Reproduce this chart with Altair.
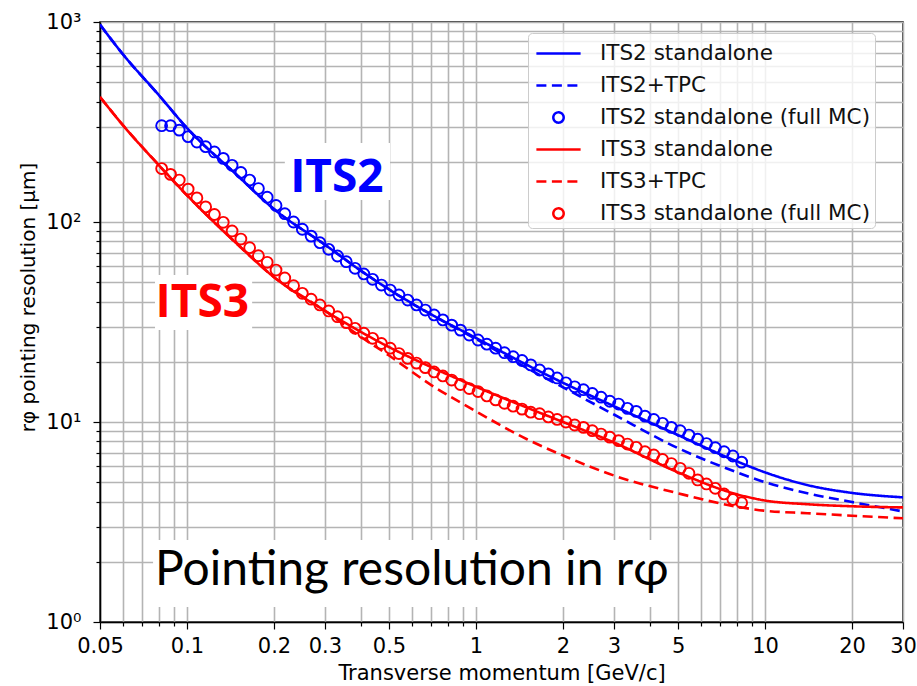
import altair as alt
import pandas as pd

# ---------------- data ----------------
LINE_PT = [0.05, 0.06, 0.08, 0.1, 0.15, 0.2, 0.3, 0.4, 0.5, 0.7, 1, 1.5, 2, 3, 5, 8, 10, 14, 20, 30]
ITS2_SA = [970, 690, 430, 295, 170, 116, 77, 57, 46, 34.5, 26.3, 19.3, 15.7, 12.0, 8.6, 6.35, 5.6, 4.84, 4.42, 4.2]
ITS2_TPC = [970, 690, 430, 295, 170, 116, 77, 57, 46, 34.4, 26.0, 18.6, 14.9, 10.9, 7.4, 5.6, 5.0, 4.4, 3.98, 3.57]
ITS3_SA = [422, 305, 192, 136, 77, 53, 36, 28.2, 23.7, 18.8, 15.0, 11.8, 10.0, 7.9, 5.6, 4.35, 4.05, 3.88, 3.79, 3.74]
ITS3_TPC = [422, 305, 192, 136, 77, 53, 36, 26.6, 21.5, 15.3, 11.3, 8.2, 6.8, 5.4, 4.4, 3.77, 3.6, 3.5, 3.4, 3.3]

MC_PT = [0.0817, 0.0877, 0.0940, 0.1009, 0.1082, 0.1160, 0.1244, 0.1335, 0.1432, 0.1536,
         0.1647, 0.1766, 0.1894, 0.2032, 0.2179, 0.2337, 0.2506, 0.2688, 0.2883, 0.3092,
         0.3316, 0.3556, 0.3814, 0.4090, 0.4386, 0.4705, 0.5046, 0.5411, 0.5803, 0.6223,
         0.6675, 0.7158, 0.7677, 0.8233, 0.8830, 0.9474, 1.016, 1.090, 1.169, 1.254,
         1.344, 1.442, 1.546, 1.659, 1.779, 1.908, 2.046, 2.194, 2.353, 2.524,
         2.707, 2.903, 3.113, 3.340, 3.582, 3.841, 4.120, 4.418, 4.739, 5.083,
         5.451, 5.846, 6.270, 6.725, 7.213, 7.736, 8.297]
ITS2_MC = [303, 303, 288, 267, 251, 238, 224, 208, 192, 177,
           162, 147, 133, 121, 110, 100, 92, 85, 78.8, 73,
           67.6, 63.3, 58.7, 55.0, 51.7, 48.4, 45.7, 43.2, 40.7, 38.5,
           36.3, 34.3, 32.4, 30.5, 28.8, 27.2, 25.7, 24.5, 23.4, 22.2,
           21.2, 20.3, 19.3, 18.2, 17.4, 16.6, 15.7, 15.0, 14.5, 13.9,
           13.3, 12.7, 12.3, 11.7, 11.3, 10.7, 10.3, 9.85, 9.4, 9.05,
           8.6, 8.2, 7.8, 7.44, 7.1, 6.76, 6.3]
ITS3_MC = [185, 173, 162, 146, 132, 119, 109, 99.6, 90.2, 82.2,
           74.4, 67.8, 62.9, 57.5, 52.5, 48.0, 44.0, 41.1, 38.5, 35.9,
           33.6, 31.4, 29.4, 27.8, 26.2, 24.7, 23.4, 22.0, 20.8, 19.7,
           18.7, 17.8, 17.0, 16.2, 15.4, 14.7, 14.2, 13.5, 12.9, 12.4,
           12.0, 11.6, 11.2, 11.0, 10.6, 10.3, 10.0, 9.66, 9.4, 9.05,
           8.7, 8.4, 8.07, 7.76, 7.47, 7.1, 6.84, 6.5, 6.2, 5.87,
           5.54, 5.13, 4.9, 4.66, 4.37, 4.1, 3.95]

SERIES = ["ITS2 standalone", "ITS2+TPC", "ITS2 standalone (full MC)",
          "ITS3 standalone", "ITS3+TPC", "ITS3 standalone (full MC)"]

X_TICKS = [0.05, 0.06, 0.07, 0.08, 0.09, 0.1, 0.2, 0.3, 0.4, 0.5, 0.6, 0.7, 0.8, 0.9,
           1, 2, 3, 4, 5, 6, 7, 8, 9, 10, 20, 30]
X_LABELED = [0.05, 0.1, 0.2, 0.3, 0.5, 1, 2, 3, 5, 10, 20, 30]
Y_TICKS = [1, 2, 3, 4, 5, 6, 7, 8, 9, 10, 20, 30, 40, 50, 60, 70, 80, 90,
           100, 200, 300, 400, 500, 600, 700, 800, 900, 1000]

TAG_TEXT = ["ITS2", "ITS3"]
TAG_X = [0.330, 0.113]
TAG_Y = [141, 33.5]
BOX_X1 = [0.218, 0.0775, 0.0763]
BOX_X2 = [0.504, 0.168, 4.37]
BOX_Y1 = [129, 28.8, 1.19]
BOX_Y2 = [248, 54.3, 2.57]
CAPTION = ["Pointing resolution in rφ"]
CAPTION_X = [0.0775]
CAPTION_Y = [1.53]

# ---------------- tables ----------------
rows = []
for name, vals in [("ITS2 standalone", ITS2_SA), ("ITS2+TPC", ITS2_TPC),
                   ("ITS3 standalone", ITS3_SA), ("ITS3+TPC", ITS3_TPC)]:
    for p, v in zip(LINE_PT, vals):
        rows.append({"pt": p, "res": v, "series": name})
line_df = pd.DataFrame(rows)

rows = []
for name, vals in [("ITS2 standalone (full MC)", ITS2_MC), ("ITS3 standalone (full MC)", ITS3_MC)]:
    for p, v in zip(MC_PT, vals):
        rows.append({"pt": p, "res": v, "series": name})
mc_df = pd.DataFrame(rows)

box_df = pd.DataFrame({"x1": BOX_X1, "x2": BOX_X2, "y1": BOX_Y1, "y2": BOX_Y2})
tag_df = pd.DataFrame({"text": TAG_TEXT, "pt": TAG_X, "res": TAG_Y})
cap_df = pd.DataFrame({"text": CAPTION, "pt": CAPTION_X, "res": CAPTION_Y})

# ---------------- styles ----------------
BLUE = "#0000ff"
RED = "#ff0000"
COLORS = [BLUE, BLUE, BLUE, RED, RED, RED]
DASHES = [[1, 0], [10, 5.5], [1, 0], [1, 0], [10, 5.5], [1, 0]]
LINE_SYM = "M-1.45,0L1.45,0"
CIRC_SYM = "M-0.34,0A0.34,0.34,0,1,0,0.34,0A0.34,0.34,0,1,0,-0.34,0Z"
SHAPES = [LINE_SYM, LINE_SYM, CIRC_SYM, LINE_SYM, LINE_SYM, CIRC_SYM]

FONT = "DejaVu Sans"

xscale = alt.Scale(type="log", domain=[0.05, 30], nice=False)
yscale = alt.Scale(type="log", domain=[1, 1000], nice=False)

x_lab_list = "[" + ",".join(repr(v) for v in X_LABELED) + "]"
x_axis = alt.Axis(
    values=X_TICKS,
    labelExpr=f"indexof({x_lab_list}, datum.value) >= 0 ? format(datum.value, '~g') : ''",
    title="Transverse momentum [GeV/c]",
    labelFlush=False, labelOverlap=False,
    labelFont=FONT, labelFontSize=21, labelColor="black", labelPadding=6,
    titleFont=FONT, titleFontSize=21, titleFontWeight="normal", titleColor="black",
    titlePadding=6,
    tickSize={"condition": {"test": f"indexof({x_lab_list}, datum.value) >= 0", "value": 7}, "value": 4},
    tickColor="black", tickWidth=1.2,
    domainColor="black", domainWidth=1.5,
    grid=True, gridColor="#b4b4b4", gridWidth=1.6,
)
y_axis = alt.Axis(
    values=Y_TICKS,
    labelExpr="datum.value == 1 ? '10⁰' : datum.value == 10 ? '10¹' : datum.value == 100 ? '10²' : datum.value == 1000 ? '10³' : ''",
    title="rφ pointing resolution [μm]",
    labelOverlap=False, labelFlush=False,
    labelFont=FONT, labelFontSize=21, labelColor="black", labelPadding=12,
    titleFont=FONT, titleFontSize=20, titleFontWeight="normal", titleColor="black",
    titleX=-72, titleY=275, titleAlign="center", titleBaseline="middle", titleAngle=270,
    tickSize={"condition": {"test": "datum.value == 1 || datum.value == 10 || datum.value == 100 || datum.value == 1000", "value": 7}, "value": 4},
    tickColor="black", tickWidth=1.2,
    domainColor="black", domainWidth=1.5,
    grid=True, gridColor="#b4b4b4", gridWidth=1.6,
)

color_scale = alt.Scale(domain=SERIES, range=COLORS)
dash_scale = alt.Scale(domain=SERIES, range=DASHES)
shape_scale = alt.Scale(domain=SERIES, range=SHAPES)

leg = alt.Legend(title=None, orient="none", legendX=428, legendY=11)

boxes = alt.Chart(box_df).mark_rect(color="white").encode(
    x=alt.X("x1:Q", scale=xscale, axis=x_axis),
    x2="x2:Q",
    y=alt.Y("y1:Q", scale=yscale, axis=y_axis),
    y2="y2:Q",
)

lines = alt.Chart(line_df).mark_line(strokeWidth=2.6, clip=True, interpolate="monotone").encode(
    x=alt.X("pt:Q", scale=xscale),
    y=alt.Y("res:Q", scale=yscale),
    color=alt.Color("series:N", scale=color_scale, legend=leg),
    strokeDash=alt.StrokeDash("series:N", scale=dash_scale, legend=leg),
)

points = alt.Chart(mc_df).mark_point(filled=False, size=1024, strokeWidth=1.9, opacity=1, clip=True).encode(
    x=alt.X("pt:Q", scale=xscale),
    y=alt.Y("res:Q", scale=yscale),
    color=alt.Color("series:N", scale=color_scale, legend=leg),
    shape=alt.Shape("series:N", scale=shape_scale, legend=leg),
)

tag2 = alt.Chart(tag_df).transform_filter(alt.datum.text == "ITS2").mark_text(
    font="Open Sans", fontWeight="bold", fontSize=46, color=BLUE, align="center", baseline="alphabetic"
).encode(x=alt.X("pt:Q", scale=xscale), y=alt.Y("res:Q", scale=yscale), text="text:N")

tag3 = alt.Chart(tag_df).transform_filter(alt.datum.text == "ITS3").mark_text(
    font="Open Sans", fontWeight="bold", fontSize=46, color=RED, align="center", baseline="alphabetic"
).encode(x=alt.X("pt:Q", scale=xscale), y=alt.Y("res:Q", scale=yscale), text="text:N")

caption = alt.Chart(cap_df).mark_text(
    font="Lato", fontSize=48, color="black", align="left", baseline="alphabetic"
).encode(x=alt.X("pt:Q", scale=xscale), y=alt.Y("res:Q", scale=yscale), text="text:N")

chart = alt.layer(boxes, lines, points, tag2, tag3, caption).properties(
    width=803, height=600,
    autosize=alt.AutoSizeParams(type="none"),
    padding={"left": 100, "top": 22, "right": 14, "bottom": 64},
    background="white",
).configure_view(
    stroke="black", strokeWidth=1.5
).configure_legend(
    labelFont=FONT, labelFontSize=21.5, labelColor="#111111", labelLimit=500,
    symbolSize=930, symbolStrokeWidth=2.5, symbolOpacity=1,
    padding=4, symbolOffset=10, labelOffset=25, rowPadding=5,
    fillColor="rgba(255,255,255,0.8)", strokeColor="#cccccc", cornerRadius=4,
)

chart.save("out.html", embed_options={"renderer": "svg", "actions": False})
